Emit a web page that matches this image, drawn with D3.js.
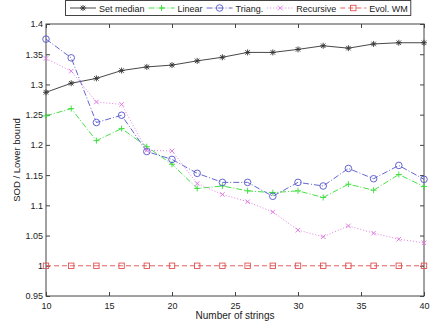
<!DOCTYPE html>
<html>
<head>
<meta charset="utf-8">
<script src="https://cdn.jsdelivr.net/npm/d3@7"></script>
<style>
  body { margin: 0; background: #fff; }
  svg { display: block; font-family: "Liberation Sans", Arial, sans-serif; }
</style>
</head>
<body>
<div id="chart"></div>
<script>
(function() {
  var width = 433, height = 327;
  var margin = { top: 24, left: 46, right: 9, bottom: 31 };
  var w = width - margin.left - margin.right,
      h = height - margin.top - margin.bottom;

  // number of strings
  var strings = [10, 12, 14, 16, 18, 20, 22, 24, 26, 28, 30, 32, 34, 36, 38, 40];

  var setMedian = [1.287, 1.302, 1.310, 1.323, 1.329, 1.332, 1.339, 1.345, 1.353, 1.353, 1.358, 1.364, 1.360, 1.367, 1.369, 1.369];
  var linear    = [1.248, 1.260, 1.207, 1.227, 1.197, 1.168, 1.128, 1.132, 1.124, 1.121, 1.124, 1.113, 1.135, 1.125, 1.151, 1.131];
  var triang    = [1.375, 1.344, 1.237, 1.249, 1.189, 1.176, 1.153, 1.138, 1.138, 1.115, 1.138, 1.132, 1.161, 1.144, 1.166, 1.143];
  var recursive = [1.343, 1.322, 1.271, 1.267, 1.191, 1.190, 1.136, 1.118, 1.106, 1.089, 1.059, 1.048, 1.066, 1.054, 1.044, 1.038];
  var evolWM    = [1, 1, 1, 1, 1, 1, 1, 1, 1, 1, 1, 1, 1, 1, 1, 1];

  var seriesNames = ["Set median", "Linear", "Triang.", "Recursive", "Evol. WM"];
  var xTicks = [10, 15, 20, 25, 30, 35, 40];
  var yTicks = [0.95, 1, 1.05, 1.1, 1.15, 1.2, 1.25, 1.3, 1.35, 1.4];

  var series = [
    { name: seriesNames[0], values: setMedian, color: "#333", dash: null, marker: "star" },
    { name: seriesNames[1], values: linear, color: "#33dd33", dash: "6,2,1,2", marker: "plus" },
    { name: seriesNames[2], values: triang, color: "#5555cc", dash: "6,2,1,2", marker: "circle" },
    { name: seriesNames[3], values: recursive, color: "#e070e0", dash: "1,2", marker: "cross" },
    { name: seriesNames[4], values: evolWM, color: "#e05050", dash: "5,3", marker: "square" }
  ];

  var svg = d3.select("#chart").append("svg")
    .attr("width", width).attr("height", height);

  var g = svg.append("g")
    .attr("transform", "translate(" + margin.left + "," + margin.top + ")");

  var x = d3.scaleLinear().domain([10, 40]).range([0, w]);
  var y = d3.scaleLinear().domain([0.95, 1.4]).range([h, 0]);

  var axisColor = "#444";

  // box
  g.append("rect").attr("width", w).attr("height", h)
    .attr("fill", "none").attr("stroke", axisColor).attr("stroke-width", 1);

  function styleAxis(sel) {
    sel.select(".domain").remove();
    sel.selectAll("line").attr("stroke", axisColor);
    sel.selectAll("text").attr("fill", "#222").style("font-size", "9px")
      .style("font-family", "'Liberation Sans', Arial, sans-serif");
  }

  // ticks pointing inward, mirrored on top/right
  g.append("g").attr("transform", "translate(0," + h + ")")
    .call(d3.axisBottom(x).tickValues(xTicks).tickSize(-4).tickPadding(7).tickFormat(d3.format("d")))
    .call(styleAxis);
  g.append("g")
    .call(d3.axisTop(x).tickValues(xTicks).tickSize(-4).tickFormat(""))
    .call(styleAxis);
  g.append("g")
    .call(d3.axisLeft(y).tickValues(yTicks).tickSize(-4).tickPadding(3).tickFormat(function(d) { return d3.format("")(+d.toFixed(2)); }))
    .call(styleAxis);
  g.append("g").attr("transform", "translate(" + w + ",0)")
    .call(d3.axisRight(y).tickValues(yTicks).tickSize(-4).tickFormat(""))
    .call(styleAxis);

  // axis labels
  g.append("text").attr("x", w / 2).attr("y", h + 23)
    .attr("text-anchor", "middle").style("font-size", "10px").attr("fill", "#222")
    .text("Number of strings");
  g.append("text")
    .attr("transform", "translate(" + (-26) + "," + (h / 2) + ") rotate(-90)")
    .attr("text-anchor", "middle").style("font-size", "9.5px").attr("fill", "#222")
    .text("SOD / Lower bound");

  function drawMarker(sel, type, color) {
    var s = 3;
    if (type === "circle") {
      sel.append("circle").attr("r", 3.3).attr("fill", "none").attr("stroke", color).attr("stroke-width", 0.9);
    } else if (type === "square") {
      sel.append("rect").attr("x", -2.7).attr("y", -2.7).attr("width", 5.4).attr("height", 5.4)
        .attr("fill", "none").attr("stroke", color).attr("stroke-width", 0.9);
    } else {
      var p = "";
      if (type === "plus" || type === "star") p += "M" + (-s) + ",0H" + s + "M0," + (-s) + "V" + s;
      if (type === "cross" || type === "star") p += "M" + (-s * 0.75) + "," + (-s * 0.75) + "L" + (s * 0.75) + "," + (s * 0.75) +
        "M" + (-s * 0.75) + "," + (s * 0.75) + "L" + (s * 0.75) + "," + (-s * 0.75);
      sel.append("path").attr("d", p).attr("fill", "none").attr("stroke", color).attr("stroke-width", 0.9);
    }
  }

  var line = d3.line()
    .x(function(d, i) { return x(strings[i]); })
    .y(function(d) { return y(d); });

  series.forEach(function(s) {
    g.append("path").datum(s.values)
      .attr("d", line)
      .attr("fill", "none")
      .attr("stroke", s.color)
      .attr("stroke-width", 0.9)
      .attr("stroke-dasharray", s.dash);

    g.selectAll(null).data(s.values).enter().append("g")
      .attr("transform", function(d, i) { return "translate(" + x(strings[i]) + "," + y(d) + ")"; })
      .each(function() { drawMarker(d3.select(this), s.marker, s.color); });
  });

  // legend
  var legend = svg.append("g");
  var box = legend.append("rect").attr("x", 65.5).attr("y", 0.5).attr("height", 15)
    .attr("fill", "#fff").attr("stroke", axisColor);
  var lx = 70;
  series.forEach(function(s) {
    legend.append("line").attr("x1", lx).attr("x2", lx + 26).attr("y1", 8).attr("y2", 8)
      .attr("stroke", s.color).attr("stroke-width", 0.9).attr("stroke-dasharray", s.dash);
    legend.append("g").attr("transform", "translate(" + (lx + 13) + ",8)")
      .call(drawMarker, s.marker, s.color);
    var t = legend.append("text").attr("x", lx + 29).attr("y", 11.5)
      .style("font-size", "9px").attr("fill", "#222").text(s.name);
    lx += 29 + t.node().getComputedTextLength() + 4;
  });
  box.attr("width", lx - 65.5 - 1);
})();
</script>
</body>
</html>
